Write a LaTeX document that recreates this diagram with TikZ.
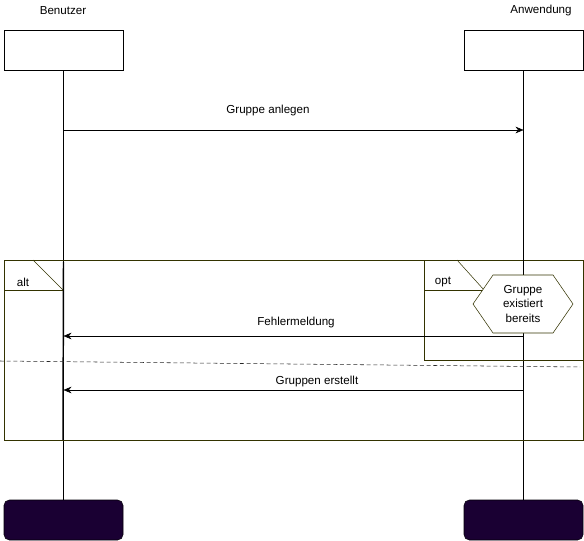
\documentclass[tikz,border=0pt]{standalone}
\usepackage{fontspec}
\setmainfont{Liberation Sans}
\usetikzlibrary{arrows.meta,positioning}
\definecolor{framecol}{HTML}{333300}
\definecolor{endcol}{HTML}{1A0033}
\begin{document}
\begin{tikzpicture}[x=0.75pt,y=-0.75pt,font=\fontsize{8.7}{11}\selectfont]

      \tikzset{actor/.style={draw, rectangle, inner sep=0pt, minimum width=89.25pt, minimum height=30pt},
               ende/.style={actor, rounded corners=4pt, fill=endcol, draw=black!85!endcol},
               msg/.style={-{Stealth[length=6pt, width=5pt]}},
               fragment/.style={draw=framecol}}
      \useasboundingbox (0,0) rectangle (584,541);
% Actors
      	\node (l1) at (63,11) {Benutzer};
      	\node (l2) at (541,11) {Anwendung};
      	\node[actor] (a1) at (63.5,50) {};
      	\node[actor] (a2) at (523.5,50) {};
      	\node[ende] (e1) at (63.5,520) {};
      	\node[ende] (e2) at (523.5,520) {};
%Lifelines
		\draw (a1.south) -- (e1.north);
		\draw (a2.south) -- (e2.north);
		\draw[line width=1.1pt] (63.5,262) -- (63,440);
% Fragments
		\draw[fragment] (4,260) rectangle (583.5,440);
		\draw[fragment] (4,290) -- (63,290);
		\draw[fragment, thin] (33,260) -- (63,290);
		\node (alt) at (23,282) {alt};
		\draw[fragment, fill=white] (424,260) rectangle (583.5,360);
		\draw[fragment] (424,290) -- (484,290);
		\draw[fragment, thin] (457,260) -- (484,290);
		\node (opt) at (443,282) {opt};
		\draw (523.5,260) -- (523.5,275);
		\draw (523.5,333) -- (523.5,360);
		\draw[fragment, fill=white] (473,304) -- (493,275) -- (553,275) -- (573,304) -- (553,333) -- (493,333) -- cycle;
		\node[align=center] (cond) at (523,304) {Gruppe\\existiert\\bereits};
		\draw[dash pattern=on 3pt off 2pt, black!85] (0,361) -- (580,367);
% Messages
		\coordinate (p1) at (63.5,130);  \coordinate (q1) at (523.5,130);
		\coordinate (p2) at (63.5,336);  \coordinate (q2) at (523.5,336);
		\coordinate (p3) at (63.5,390);  \coordinate (q3) at (523.5,390);
		\draw[msg] (p1) -- (q1);
		\draw[msg] (q2) -- (p2);
		\draw[msg] (q3) -- (p3);
		\node (m1) at (268,111) {Gruppe anlegen};
		\node (m2) at (296,322) {Fehlermeldung};
		\node (m3) at (317,381) {Gruppen erstellt};

	\end{tikzpicture}
\end{document}
